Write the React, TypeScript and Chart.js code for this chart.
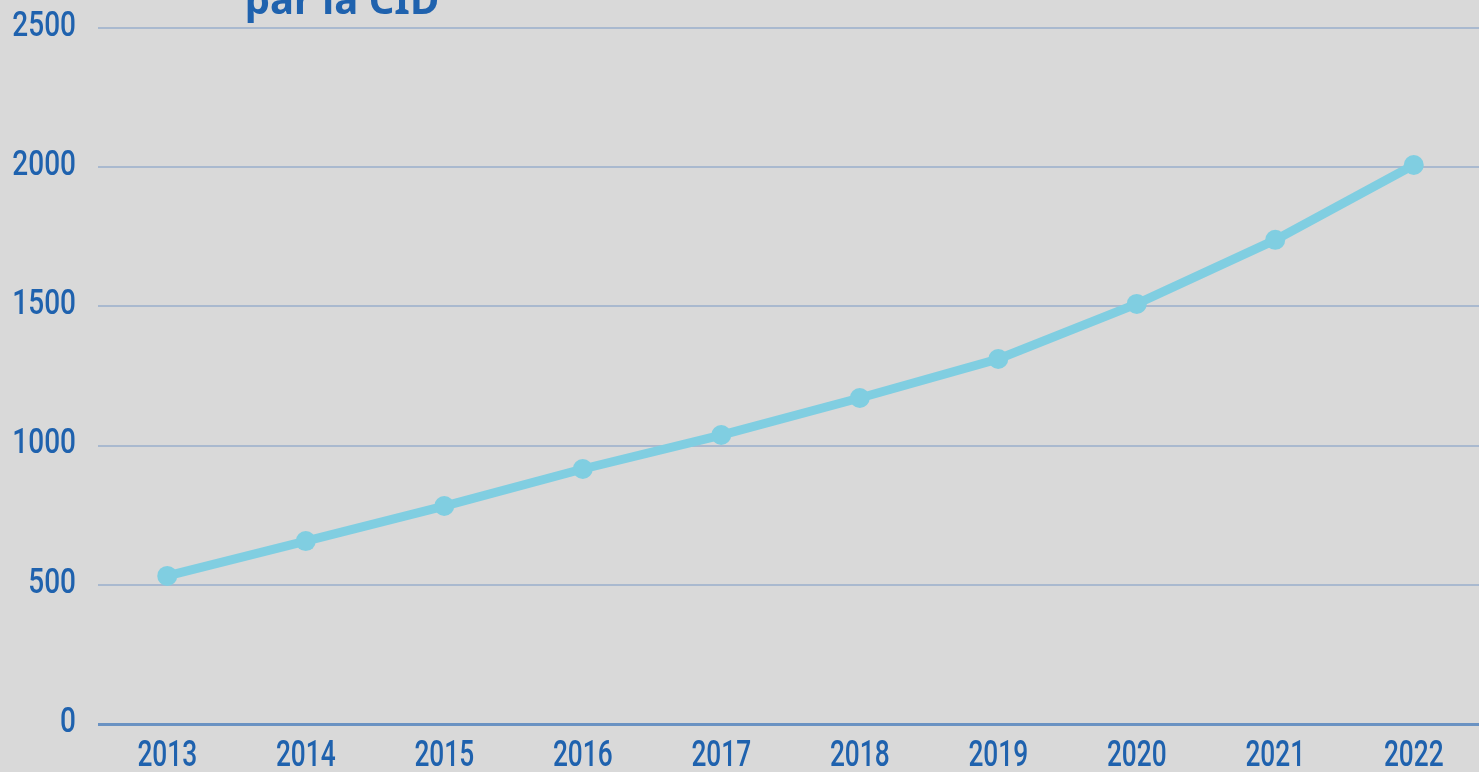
import React, { useEffect, useRef } from "react";
import { Chart, registerables } from "chart.js";

Chart.register(...registerables);

const years = ["2013", "2014", "2015", "2016", "2017", "2018", "2019", "2020", "2021", "2022"];
const values = [532, 657, 783, 916, 1038, 1171, 1311, 1509, 1739, 2008];
const yTicks = [0, 500, 1000, 1500, 2000, 2500];
const titleText = "par la CID";

const BLUE = "#1f62ae";
const LABEL_FONT = "Roboto, 'Noto Sans', sans-serif";

function drawScaled(ctx: any, text: string, x: number, y: number, sx: number, align: string) {
  ctx.save();
  ctx.translate(x, y);
  ctx.scale(sx, 1);
  ctx.textAlign = align;
  ctx.textBaseline = "middle";
  ctx.fillText(text, 0, 0);
  ctx.restore();
}

const labelPlugin = {
  id: "condensedLabels",
  afterDraw(chart: any) {
    const ctx = chart.ctx;
    const xs = chart.scales.x;
    const ys = chart.scales.y;
    ctx.save();
    ctx.fillStyle = BLUE;
    ctx.font = `500 35px ${LABEL_FONT}`;
    ys.ticks.forEach((t: any) => {
      drawScaled(ctx, String(t.value), 76, ys.getPixelForValue(t.value) - 1, 0.8, "right");
    });
    ctx.font = `500 36px ${LABEL_FONT}`;
    years.forEach((lab, i) => {
      drawScaled(ctx, lab, xs.getPixelForValue(i), 757, 0.73, "center");
    });
    ctx.font = "bold 40px 'Noto Sans', sans-serif";
    ctx.textAlign = "center";
    ctx.textBaseline = "alphabetic";
    ctx.fillText(titleText, 342, 14);
    ctx.restore();
  },
};

export default function App() {
  const ref = useRef<HTMLCanvasElement>(null);
  useEffect(() => {
    const chart = new Chart(ref.current as HTMLCanvasElement, {
      type: "line",
      data: {
        labels: years,
        datasets: [
          {
            data: values,
            borderColor: "#80cee1",
            backgroundColor: "#80cee1",
            borderWidth: 9,
            pointRadius: 10,
            pointHoverRadius: 10,
            pointBorderWidth: 0,
            tension: 0,
          },
        ],
      },
      options: {
        responsive: false,
        animation: false,
        devicePixelRatio: 1,
        layout: { autoPadding: false, padding: { top: 28, right: 0, left: 0, bottom: 0 } },
        plugins: { legend: { display: false }, tooltip: { enabled: false } },
        scales: {
          x: {
            offset: true,
            grid: { display: false, drawTicks: false },
            border: { display: false },
            ticks: { display: false },
            afterFit(scale: any) {
              scale.height = 48;
            },
          },
          y: {
            min: 0,
            max: 2500,
            afterBuildTicks(scale: any) {
              scale.ticks = yTicks.map((v) => ({ value: v }));
            },
            grid: {
              drawTicks: false,
              color: (c: any) => (c.tick && c.tick.value === 0 ? "#6a92c2" : "#a9b9cf"),
              lineWidth: (c: any) => (c.tick && c.tick.value === 0 ? 3 : 2),
            },
            border: { display: false },
            ticks: { display: false },
            afterFit(scale: any) {
              scale.width = 98;
            },
          },
        },
      },
      plugins: [labelPlugin],
    });
    return () => chart.destroy();
  }, []);
  return (
    <div
      style={{
        position: "fixed",
        left: 0,
        top: 0,
        width: 1479,
        height: 772,
        overflow: "hidden",
        background: "#d9d9d9",
      }}
    >
      <canvas ref={ref} width={1483} height={772} style={{ display: "block" }} />
    </div>
  );
}
